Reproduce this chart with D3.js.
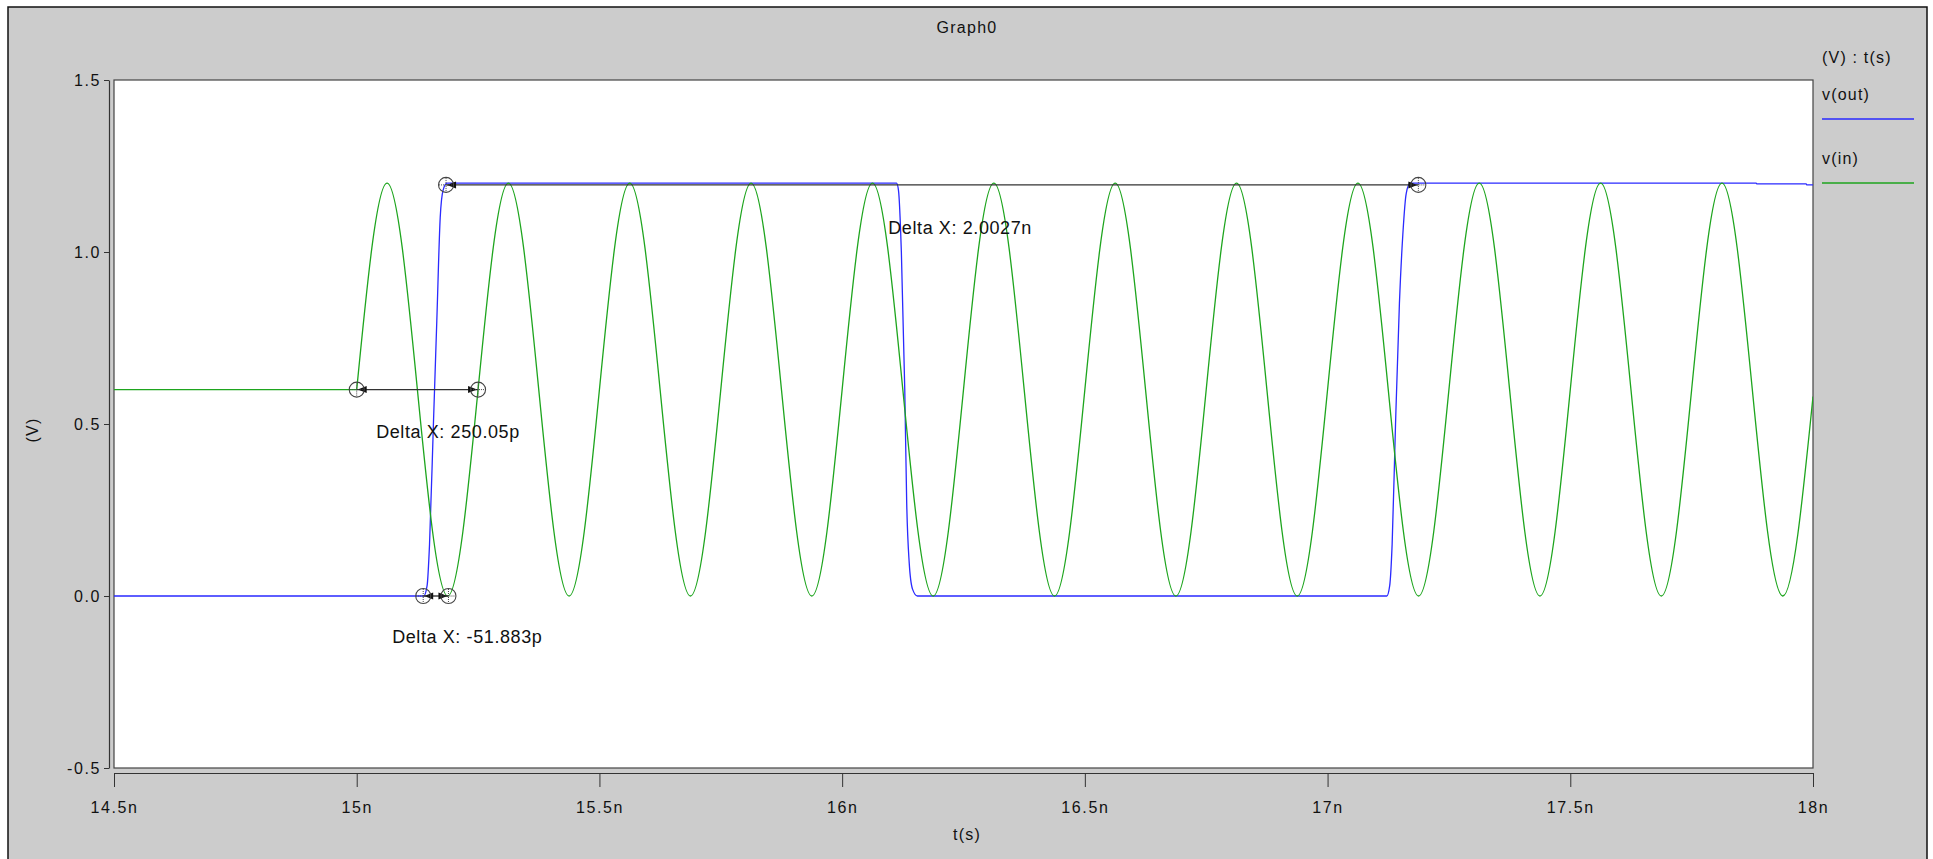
<!DOCTYPE html>
<html>
<head>
<meta charset="utf-8">
<script src="https://cdn.jsdelivr.net/npm/d3@7"></script>
<style>
  html, body { margin: 0; padding: 0; background: #ffffff; }
  svg { display: block; }
  text { font-family: "Liberation Sans", Arial, Helvetica, sans-serif; fill: #111; }
</style>
</head>
<body>
<svg id="chart" width="1933" height="859"></svg>
<script>
// ---------------- data ----------------
const chartTitle = "Graph0";
const xTicks = [14.5, 15, 15.5, 16, 16.5, 17, 17.5, 18];
const xTickLabels = ["14.5n", "15n", "15.5n", "16n", "16.5n", "17n", "17.5n", "18n"];
const yTicks = [-0.5, 0, 0.5, 1.0, 1.5];
const yTickLabels = ["-0.5", "0.0", "0.5", "1.0", "1.5"];
const seriesNames = ["v(out)", "v(in)"];

// v(in): held at 0.6 V, then a sine starting at 15n (values read at quarter periods)
const vinFlatT = [14.5, 15.0];
const vinFlatV = [0.6, 0.6];
const vinT = [15.0, 15.0625, 15.125, 15.1875, 15.25, 15.3125, 15.375, 15.4375, 15.5,
  15.5625, 15.625, 15.6875, 15.75, 15.8125, 15.875, 15.9375, 16.0,
  16.0625, 16.125, 16.1875, 16.25, 16.3125, 16.375, 16.4375, 16.5,
  16.5625, 16.625, 16.6875, 16.75, 16.8125, 16.875, 16.9375, 17.0,
  17.0625, 17.125, 17.1875, 17.25, 17.3125, 17.375, 17.4375, 17.5,
  17.5625, 17.625, 17.6875, 17.75, 17.8125, 17.875, 17.9375, 18.0];
const vinV = [0.6, 1.2, 0.6, 0.0, 0.6, 1.2, 0.6, 0.0, 0.6,
  1.2, 0.6, 0.0, 0.6, 1.2, 0.6, 0.0, 0.6,
  1.2, 0.6, 0.0, 0.6, 1.2, 0.6, 0.0, 0.6,
  1.2, 0.6, 0.0, 0.6, 1.2, 0.6, 0.0, 0.6,
  1.2, 0.6, 0.0, 0.6, 1.2, 0.6, 0.0, 0.6,
  1.2, 0.6, 0.0, 0.6, 1.2, 0.6, 0.0, 0.58];

// v(out): divider output, toggles each 2n
const voutT = [14.5, 15.138, 15.145, 15.150, 15.158, 15.165, 15.172, 15.178, 15.186,
  16.112, 16.116, 16.122, 16.129, 16.133, 16.138, 16.145, 16.155,
  17.122, 17.128, 17.133, 17.140, 17.148, 17.155, 17.162, 17.170,
  17.883, 17.884, 17.986, 17.987, 18.0];
const voutV = [0.0, 0.0, 0.03, 0.15, 0.5, 0.8, 1.1, 1.18, 1.2,
  1.2, 1.18, 1.0, 0.6, 0.27, 0.1, 0.02, 0.0,
  0.0, 0.03, 0.15, 0.5, 0.85, 1.05, 1.17, 1.2,
  1.2, 1.198, 1.198, 1.195, 1.195];

// cursor pairs (time in n, level in V) and their readouts
const cursorT1 = [15.0, 15.137, 15.184];
const cursorT2 = [15.25, 15.189, 17.187];
const cursorV = [0.6, 0.0, 1.195];
const cursorLabels = ["Delta X: 250.05p", "Delta X: -51.883p", "Delta X: 2.0027n"];
const cursorLabelT = [15.040, 15.073, 16.095];
const cursorLabelV = [0.459, -0.137, 1.052];

// ---------------- drawing ----------------
const svg = d3.select("#chart");
const W = 1933, H = 859;
const plot = { left: 114, right: 1813, top: 80, bottom: 768 };

const x = d3.scaleLinear().domain([14.5, 18]).range([plot.left, plot.right]);
const y = d3.scaleLinear().domain([-0.5, 1.5]).range([plot.bottom, plot.top]);

// outer gray frame
svg.append("rect").attr("x", 8).attr("y", 7).attr("width", 1919).attr("height", 900)
  .attr("fill", "#cccccc").attr("stroke", "#111").attr("stroke-width", 1.5);

// plot background
svg.append("rect").attr("x", plot.left).attr("y", plot.top)
  .attr("width", plot.right - plot.left).attr("height", plot.bottom - plot.top)
  .attr("fill", "#ffffff").attr("stroke", "#444").attr("stroke-width", 1.2);

// title
svg.append("text").attr("x", 967).attr("y", 33).attr("text-anchor", "middle")
  .style("font-size", "16px").style("letter-spacing", "1.3px").text(chartTitle);

// axes
const xAxis = d3.axisBottom(x).tickValues(xTicks)
  .tickFormat((d, i) => xTickLabels[i]).tickSize(14).tickSizeOuter(0).tickPadding(15);
const gx = svg.append("g").attr("transform", `translate(0,773)`).call(xAxis);
gx.select(".domain").attr("stroke", "#333").attr("stroke-width", 1.2);
gx.selectAll(".tick line").attr("stroke", "#333");
gx.selectAll(".tick text").style("font-size", "16px").style("letter-spacing", "1.6px")
  .style("font-family", "'Liberation Sans', Arial, sans-serif").attr("fill", "#111");

const yAxis = d3.axisLeft(y).tickValues(yTicks)
  .tickFormat((d, i) => yTickLabels[yTicks.indexOf(d)]).tickSize(5).tickSizeOuter(0).tickPadding(3);
const gy = svg.append("g").attr("transform", `translate(109,0)`).call(yAxis);
gy.select(".domain").attr("stroke", "#333").attr("stroke-width", 1.2);
gy.selectAll(".tick line").attr("stroke", "#333");
gy.selectAll(".tick text").style("font-size", "16px").style("letter-spacing", "1.6px")
  .style("font-family", "'Liberation Sans', Arial, sans-serif").attr("fill", "#111");

// axis titles
svg.append("text").attr("x", 967).attr("y", 840).attr("text-anchor", "middle")
  .style("font-size", "16px").style("letter-spacing", "1.2px").text("t(s)");
svg.append("text").attr("transform", "translate(38,430) rotate(-90)").attr("text-anchor", "middle")
  .style("font-size", "16px").style("letter-spacing", "1.2px").text("(V)");

// legend
svg.append("text").attr("x", 1822).attr("y", 63).style("font-size", "16px")
  .style("letter-spacing", "1.2px").text("(V) : t(s)");
const legendColors = ["#2a2aff", "#1ea51e"];
seriesNames.forEach((n, i) => {
  svg.append("text").attr("x", 1822).attr("y", 100 + i * 64).style("font-size", "16px")
    .style("letter-spacing", "1.2px").text(n);
  svg.append("line").attr("x1", 1822).attr("x2", 1914)
    .attr("y1", 119 + i * 64).attr("y2", 119 + i * 64)
    .attr("stroke", legendColors[i]).attr("stroke-width", 1.3);
});

// clip
svg.append("clipPath").attr("id", "clip").append("rect")
  .attr("x", plot.left).attr("y", plot.top)
  .attr("width", plot.right - plot.left).attr("height", plot.bottom - plot.top);
const g = svg.append("g").attr("clip-path", "url(#clip)");

// v(out)
const voutData = voutT.map((t, i) => [t, voutV[i]]);
const lineLin = d3.line().x(d => x(d[0])).y(d => y(d[1])).curve(d3.curveMonotoneX);
g.append("path").datum(voutData).attr("d", lineLin)
  .attr("fill", "none").attr("stroke", legendColors[0]).attr("stroke-width", 1.3);

// v(in)
const vinFlat = vinFlatT.map((t, i) => [t, vinFlatV[i]]);
g.append("path").datum(vinFlat).attr("d", d3.line().x(d => x(d[0])).y(d => y(d[1])))
  .attr("fill", "none").attr("stroke", legendColors[1]).attr("stroke-width", 1.3);
const vinData = vinT.map((t, i) => [t, vinV[i]]);
g.append("path").datum(vinData)
  .attr("d", d3.line().x(d => x(d[0])).y(d => y(d[1])).curve(d3.curveNatural))
  .attr("fill", "none").attr("stroke", legendColors[1]).attr("stroke-width", 1.3);

// cursors
const cg = svg.append("g");
function marker(px, py) {
  const m = cg.append("g").attr("transform", `translate(${px},${py})`);
  m.append("circle").attr("r", 7.5).attr("fill", "none").attr("stroke", "#444").attr("stroke-width", 1.1);
  m.append("line").attr("x1", -7).attr("x2", 7).attr("y1", 0).attr("y2", 0)
    .attr("stroke", "#444").attr("stroke-width", 1).attr("stroke-dasharray", "1,1");
  m.append("line").attr("y1", -7).attr("y2", 7).attr("x1", 0).attr("x2", 0)
    .attr("stroke", "#444").attr("stroke-width", 1).attr("stroke-dasharray", "1,1");
}
function arrow(px, py, dir) {
  // dir: -1 points left, +1 points right; tip at px
  cg.append("path")
    .attr("d", `M${px},${py} L${px - dir * 9},${py - 3.5} L${px - dir * 9},${py + 3.5} Z`)
    .attr("fill", "#111");
}
cursorT1.forEach((t1, i) => {
  const x1 = x(t1), x2 = x(cursorT2[i]), yy = y(cursorV[i]);
  const lo = Math.min(x1, x2), hi = Math.max(x1, x2);
  cg.append("line").attr("x1", x1).attr("x2", x2).attr("y1", yy).attr("y2", yy)
    .attr("stroke", "#333").attr("stroke-width", 1.4);
  arrow(lo + 1, yy, -1);
  arrow(hi - 1, yy, 1);
  marker(x1, yy);
  marker(x2, yy);
  svg.append("text").attr("x", x(cursorLabelT[i])).attr("y", y(cursorLabelV[i]))
    .style("font-size", "18px").style("letter-spacing", "0.6px").text(cursorLabels[i]);
});
</script>
</body>
</html>
